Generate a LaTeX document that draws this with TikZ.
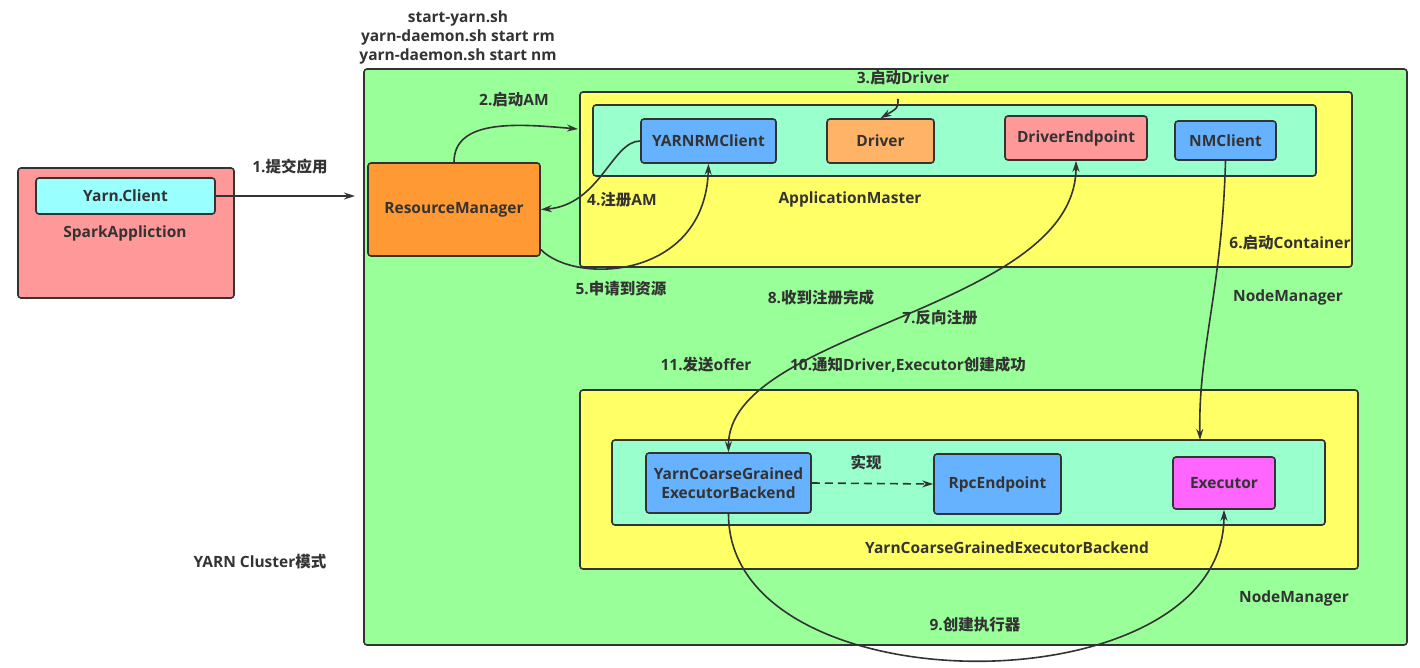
\documentclass[tikz,border=0pt]{standalone}
\usepackage{fontspec}
\setmainfont{Open Sans}
\newfontfamily\cjk{Noto Sans CJK SC}
\usetikzlibrary{arrows.meta}

\definecolor{pinkbox}{HTML}{FF9999}
\definecolor{cyanbox}{HTML}{99FFFF}
\definecolor{greenbox}{HTML}{99FF99}
\definecolor{orangebox}{HTML}{FF9933}
\definecolor{yellowbox}{HTML}{FFFF66}
\definecolor{mintbox}{HTML}{99FFCC}
\definecolor{bluebox}{HTML}{66B2FF}
\definecolor{peachbox}{HTML}{FFB366}
\definecolor{magentabox}{HTML}{FF66FF}
\definecolor{ink}{HTML}{333333}

\begin{document}
\begin{tikzpicture}[x=1pt, y=-1pt,
  box/.style  = {draw=ink, line width=1.6pt, rounded corners=3pt, inner sep=0pt},
  txt/.style  = {font=\bfseries\fontsize{15.5}{19}\selectfont, text=ink, inner sep=1pt},
  conn/.style = {draw=ink, line width=1.6pt, -{Stealth[length=11pt,width=7pt]}}]
\useasboundingbox (0,0) rectangle (1420,668);

% client side
\node[box, fill=pinkbox, minimum width=216, minimum height=130] (spark) at (126,233) {};
\node[box, fill=cyanbox, minimum width=179, minimum height=36, txt] (client) at (125.5,196) {Yarn.Client};
\node[txt] (sparklbl) at (125,233) {SparkAppliction};

% cluster
\node[txt, align=center] (cmds) at (458,37) {start-yarn.sh\\yarn-daemon.sh start rm\\yarn-daemon.sh start nm};
\node[box, fill=greenbox, minimum width=1043, minimum height=576] (cluster) at (885.5,357) {};
\node[box, fill=orangebox, minimum width=172, minimum height=93, txt] (rm) at (454,209.5) {ResourceManager};

% node manager 1
\node[box, fill=yellowbox, minimum width=772, minimum height=175] (am) at (966,179.5) {};
\node[box, fill=mintbox, minimum width=723, minimum height=71] (aminner) at (954.5,140.5) {};
\node[box, fill=bluebox, minimum width=135, minimum height=44, txt] (rmclient) at (708.5,141) {YARNRMClient};
\node[box, fill=peachbox, minimum width=107, minimum height=44, txt] (driver) at (880.5,141) {Driver};
\node[box, fill=pinkbox, minimum width=142, minimum height=44, txt] (dep) at (1076,138) {DriverEndpoint};
\node[box, fill=bluebox, minimum width=101, minimum height=39, txt] (nmc) at (1225.5,140.5) {NMClient};
\node[txt] (amlbl) at (850,199) {ApplicationMaster};
\node[txt] (nmlbl1) at (1288,297) {NodeManager};

% node manager 2
\node[box, fill=yellowbox, minimum width=778, minimum height=179] (nm) at (969,479.5) {};
\node[box, fill=mintbox, minimum width=713, minimum height=85] (nminner) at (968.5,482.5) {};
\node[box, fill=bluebox, minimum width=165, minimum height=60, txt, align=center] (backend) at (728.5,483) {YarnCoarseGrained\\ExecutorBackend};
\node[box, fill=bluebox, minimum width=127, minimum height=60, txt] (rpc) at (997.5,484) {RpcEndpoint};
\node[box, fill=magentabox, minimum width=102, minimum height=52, txt] (exec) at (1224,483) {Executor};
\node[txt] (nminnerlbl) at (1007,548) {YarnCoarseGrainedExecutorBackend};
\node[txt] (nmlbl2) at (1294,598) {NodeManager};
\node[txt] (mode) at (260,562) {YARN Cluster{\cjk 模式}};

% free ends
\coordinate (rmin) at (355,196);
\coordinate (amin) at (578,129);
\coordinate (drvtop) at (898,99);
\coordinate (execin) at (1200,440);

% steps
\draw[conn] (client.east) -- (rmin);
\draw[conn] (rm.north) .. controls (454,118) and (520,124) .. (amin);
\draw[conn] (drvtop) .. controls (898,108) .. (driver.north);
\draw[conn] (rmclient.west) .. controls (612,141) and (600,205) .. (rm.east);
\draw[conn] ([yshift=-40pt]rm.east) .. controls (575,285) and (705,280) .. (rmclient.south);
\draw[conn] (nmc.south) .. controls (1222,290) and (1198,350) .. (execin);
\draw[conn, {Stealth[length=11pt,width=7pt]}-{Stealth[length=11pt,width=7pt]}] (dep.south) .. controls (1076,310) and (728,330) .. (backend.north);
\draw[conn] (backend.south) .. controls (728,710) and (1224,710) .. (exec.south);
\draw[conn, dash pattern=on 8pt off 5pt] (backend.east) -- (rpc.west);

% step labels
\node[txt] (s1) at (290,167) {1.{\cjk 提交应用}};
\node[txt] (s2) at (514,100) {2.{\cjk 启动}AM};
\node[txt] (s3) at (903,78) {3.{\cjk 启动}Driver};
\node[txt] (s4) at (622,200) {4.{\cjk 注册}AM};
\node[txt] (s5) at (621,289) {5.{\cjk 申请到资源}};
\node[txt] (s6) at (1290,243) {6.{\cjk 启动}Container};
\node[txt] (s7) at (940,318) {7.{\cjk 反向注册}};
\node[txt] (s8) at (821,298) {8.{\cjk 收到注册完成}};
\node[txt] (s9) at (975,625) {9.{\cjk 创建执行器}};
\node[txt] (s10) at (908,365) {10.{\cjk 通知}Driver,Executor{\cjk 创建成功}};
\node[txt] (s11) at (706,365) {11.{\cjk 发送}offer};
\node[txt] (impl) at (866,462) {{\cjk 实现}};
\end{tikzpicture}
\end{document}
